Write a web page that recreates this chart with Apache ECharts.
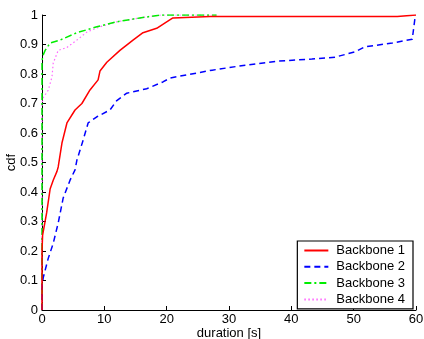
<!DOCTYPE html>
<html><head><meta charset="utf-8">
<script src="https://cdn.jsdelivr.net/npm/echarts@6/dist/echarts.min.js"></script>
<style>html,body{margin:0;padding:0;background:#fff}#c{width:424px;height:339px}</style>
</head><body><div id="c"></div>
<script>
const seriesNames = ['Backbone 1','Backbone 2','Backbone 3','Backbone 4'];
const xTicks = [0,10,20,30,40,50,60];
const yTicks = [0,0.1,0.2,0.3,0.4,0.5,0.6,0.7,0.8,0.9,1];
const bb1x = [0,0,0.1,0.75,1.3,1.8,2.4,2.6,3.2,4.0,5.3,6.4,7.7,9.0,9.3,10.4,12.5,14.6,16.2,18.4,20,21,27,57,60];
const bb1y = [0,0.2,0.254,0.33,0.41,0.44,0.47,0.485,0.566,0.634,0.678,0.70,0.746,0.78,0.81,0.84,0.88,0.915,0.94,0.955,0.977,0.99,0.995,0.995,1.0];
const bb2x = [0,0,0.2,1,1.8,2.6,3.4,4.5,5.3,5.6,6.6,7.4,8.8,10.9,12,13.6,16.8,19.4,20.5,23.2,27.3,32.6,38,43.3,47,50.2,51.8,56.2,59.4,59.9];
const bb2y = [0,0.08,0.11,0.175,0.226,0.295,0.38,0.44,0.475,0.508,0.576,0.634,0.655,0.678,0.71,0.735,0.75,0.773,0.786,0.797,0.813,0.83,0.844,0.851,0.857,0.875,0.892,0.905,0.918,1.0];
const bb3x = [0,0,0.1,0.5,1.3,2.9,5.6,8.8,12,15.7,19,28];
const bb3y = [0,0.84,0.86,0.88,0.905,0.915,0.94,0.96,0.977,0.99,1.0,1.0];
const bb4x = [0,0,0.2,1,1.6,1.8,2.6,4,5.6,7.2,9.3,12,15.7,19,28];
const bb4y = [0,0.70,0.72,0.745,0.79,0.837,0.88,0.89,0.915,0.942,0.96,0.977,0.99,1.0,1.0];

const zip = (xs, ys) => xs.map((x, i) => [x, ys[i]]);
const styles = [
  {color:'#ff0000', type:'solid', width:1.5},
  {color:'#0000ff', type:[6,4], width:1.5},
  {color:'#00ee00', type:[7,3,2,3], width:1.5},
  {color:'#ff66ff', type:[1.5,2.5], width:1.2}
];
const datas = [zip(bb1x,bb1y), zip(bb2x,bb2y), zip(bb3x,bb3y), zip(bb4x,bb4y)];
const font = 'Helvetica, Arial, "Liberation Sans", sans-serif';
const chart = echarts.init(document.getElementById('c'), null, {renderer:'canvas'});
const order = [3,2,1,0];
chart.setOption({
  animation:false,
  backgroundColor:'#fff',
  grid:{left:42,right:8,top:15,bottom:29,outerBoundsMode:'none'},
  xAxis:{type:'value',min:0,max:60,interval:10,
    name:'duration [s]',nameLocation:'middle',nameGap:17,nameMoveOverlap:false,
    nameTextStyle:{fontSize:13,color:'#000',fontFamily:font},
    axisLine:{show:true,lineStyle:{color:'#000',width:1}},
    axisTick:{show:true,inside:true,length:4,lineStyle:{color:'#000'}},
    axisLabel:{fontSize:13,color:'#000',fontFamily:font,margin:3,
      formatter:v=>xTicks.includes(v)?String(v):''},
    splitLine:{show:false}},
  yAxis:{type:'value',min:0,max:1,interval:0.1,
    name:'cdf',nameLocation:'middle',nameGap:24,nameRotate:90,nameMoveOverlap:false,
    nameTextStyle:{fontSize:13,color:'#000',fontFamily:font},
    axisLine:{show:true,lineStyle:{color:'#000',width:1}},
    axisTick:{show:true,inside:true,length:4,lineStyle:{color:'#000'}},
    axisLabel:{fontSize:13,color:'#000',fontFamily:font,margin:4,
      formatter:v=>{const t=yTicks.find(a=>Math.abs(a-v)<1e-9);return t===undefined?'':String(t);}},
    splitLine:{show:false}},
  legend:{show:true,orient:'vertical',right:11,top:241,
    data:seriesNames,
    backgroundColor:'#fff',borderColor:'#000',borderWidth:1.2,
    padding:[3,8,3,6],itemGap:3.3,itemWidth:24,itemHeight:12,
    itemStyle:{opacity:0},
    textStyle:{fontSize:13,color:'#000',fontFamily:font,padding:[0,0,0,3]}},
  series: order.map(i=>({
    name:seriesNames[i],type:'line',data:datas[i],showSymbol:false,symbol:'none',
    lineStyle:{color:styles[i].color,type:styles[i].type,width:styles[i].width},
    itemStyle:{color:styles[i].color},
    z:10+(3-i)
  }))
});
</script></body></html>
